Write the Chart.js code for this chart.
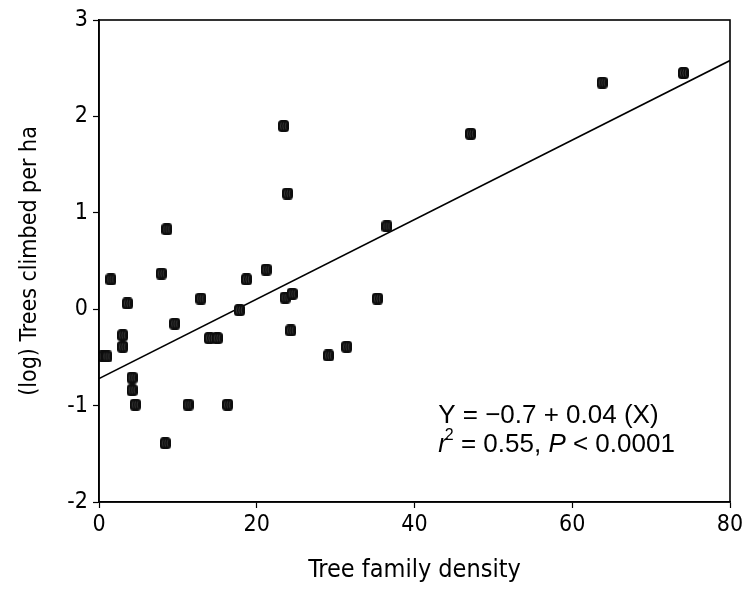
<!DOCTYPE html>
<html lang="en">
<head>
    <meta charset="UTF-8">
    <title>Trees climbed vs tree family density</title>
    <script src="https://cdn.jsdelivr.net/npm/chart.js@4/dist/chart.umd.min.js"></script>
    <style>
        html, body { margin: 0; padding: 0; background: #fff; }
        #wrap { width: 749px; height: 609px; }
    </style>
</head>
<body>
    <div id="wrap"><canvas id="scatter"></canvas></div>

    <script>
        // Data
        const familyDensity = [0.5, 1.0, 1.5, 3.0, 3.0, 3.6, 4.2, 4.2, 4.6, 7.9, 8.4, 8.6, 9.6, 11.3, 12.9, 14.0, 15.0, 16.3, 17.8, 18.7, 21.2, 23.4, 23.6, 23.9, 24.3, 24.5, 29.1, 31.4, 35.3, 36.5, 47.1, 63.8, 74.1];
        const logTreesClimbed = [-0.49, -0.49, 0.31, -0.27, -0.39, 0.06, -0.71, -0.84, -0.99, 0.37, -1.39, 0.83, -0.15, -0.99, 0.11, -0.30, -0.30, -0.99, -0.01, 0.31, 0.41, 1.90, 0.12, 1.20, -0.22, 0.16, -0.48, -0.39, 0.11, 0.86, 1.82, 2.35, 2.45];
        const fitX = [0, 80];
        const fitY = [-0.72, 2.58];
        const xTicks = [0, 20, 40, 60, 80];
        const yTicks = [3, 2, 1, 0, -1, -2];

        // hatched rounded-square marker like the original
        function makeMarker() {
            const c = document.createElement('canvas');
            c.width = 11; c.height = 12;
            const g = c.getContext('2d');
            g.fillStyle = '#0d0d0d';
            g.beginPath();
            g.roundRect(0, 0, 11, 12, 3.5);
            g.fill();
            g.strokeStyle = '#4a4a4a';
            g.lineWidth = 0.7;
            [3.2, 5.6, 8].forEach(x => {
                g.beginPath();
                g.moveTo(x, 2.5);
                g.quadraticCurveTo(x - 1.6, 6, x, 9.5);
                g.stroke();
            });
            return c;
        }
        const marker = makeMarker();

        const frame = {
            id: 'frame',
            afterDraw(chart) {
                const a = chart.chartArea;
                const g = chart.ctx;
                g.save();
                g.strokeStyle = '#000';
                g.lineWidth = 1.6;
                g.strokeRect(a.left, a.top, a.right - a.left, a.bottom - a.top);

                // regression note
                const xs = chart.scales.x, ys = chart.scales.y;
                const x0 = xs.getPixelForValue(43);
                const y0 = ys.getPixelForValue(-1.18);
                const reg = '26px "Liberation Sans", Arial, sans-serif';
                const ita = 'italic 26px "Liberation Sans", Arial, sans-serif';
                g.fillStyle = '#000';
                g.textBaseline = 'alphabetic';
                g.font = reg;
                g.fillText('Y = \u22120.7 + 0.04 (X)', x0, y0);
                const y1 = y0 + 29;
                g.font = ita;
                g.fillText('r', x0, y1);
                let w = g.measureText('r').width;
                g.font = '16px "Liberation Sans", Arial, sans-serif';
                g.fillText('2', x0 + w - 2, y1 - 12);
                w += g.measureText('2').width - 2;
                g.font = reg;
                const s1 = ' = 0.55, ';
                g.fillText(s1, x0 + w, y1);
                w += g.measureText(s1).width;
                g.font = ita;
                g.fillText('P', x0 + w, y1);
                w += g.measureText('P').width;
                g.font = reg;
                g.fillText(' < 0.0001', x0 + w, y1);
                g.restore();
            }
        };

        const points = familyDensity.map((x, i) => ({ x: x, y: logTreesClimbed[i] }));
        const fitLine = fitX.map((x, i) => ({ x: x, y: fitY[i] }));

        const face = '"DejaVu Sans Condensed", "DejaVu Sans", Tahoma, sans-serif';
        const tickFont = { family: face, size: 23 };

        new Chart(document.getElementById('scatter'), {
            type: 'scatter',
            data: {
                datasets: [{
                    label: 'Sites',
                    data: points,
                    pointStyle: marker,
                    pointRadius: 6,
                    order: 1
                }, {
                    type: 'line',
                    label: 'Fit',
                    data: fitLine,
                    borderColor: '#000',
                    borderWidth: 1.6,
                    pointRadius: 0,
                    fill: false,
                    order: 2
                }]
            },
            options: {
                responsive: true,
                maintainAspectRatio: false,
                animation: false,
                layout: { padding: { top: 20, right: 19, left: 0, bottom: 0 } },
                plugins: { legend: { display: false }, tooltip: { enabled: false } },
                scales: {
                    x: {
                        type: 'linear',
                        min: 0,
                        max: 80,
                        afterBuildTicks: s => { s.ticks = xTicks.map(v => ({ value: v })); },
                        afterFit: s => { s.height = 107; },
                        grid: { drawOnChartArea: false, color: '#000', tickLength: 6, tickWidth: 1.2 },
                        border: { color: '#000', width: 1.6 },
                        ticks: { color: '#000', font: tickFont, padding: 3, maxRotation: 0 },
                        title: {
                            display: true,
                            text: 'Tree family density',
                            color: '#000',
                            font: { family: face, size: 25 },
                            padding: { top: 0, bottom: 24 }
                        }
                    },
                    y: {
                        type: 'linear',
                        min: -2,
                        max: 3,
                        afterBuildTicks: s => { s.ticks = yTicks.map(v => ({ value: v })); },
                        afterFit: s => { s.width = 99; },
                        grid: { drawOnChartArea: false, color: '#000', tickLength: 6, tickWidth: 1.2 },
                        border: { color: '#000', width: 1.6 },
                        ticks: { color: '#000', font: tickFont, padding: 5 },
                        title: {
                            display: true,
                            text: '(log) Trees climbed per ha',
                            color: '#000',
                            font: { family: face, size: 23 },
                            padding: { top: 16, bottom: 0 }
                        }
                    }
                }
            },
            plugins: [frame]
        });
    </script>
</body>
</html>
